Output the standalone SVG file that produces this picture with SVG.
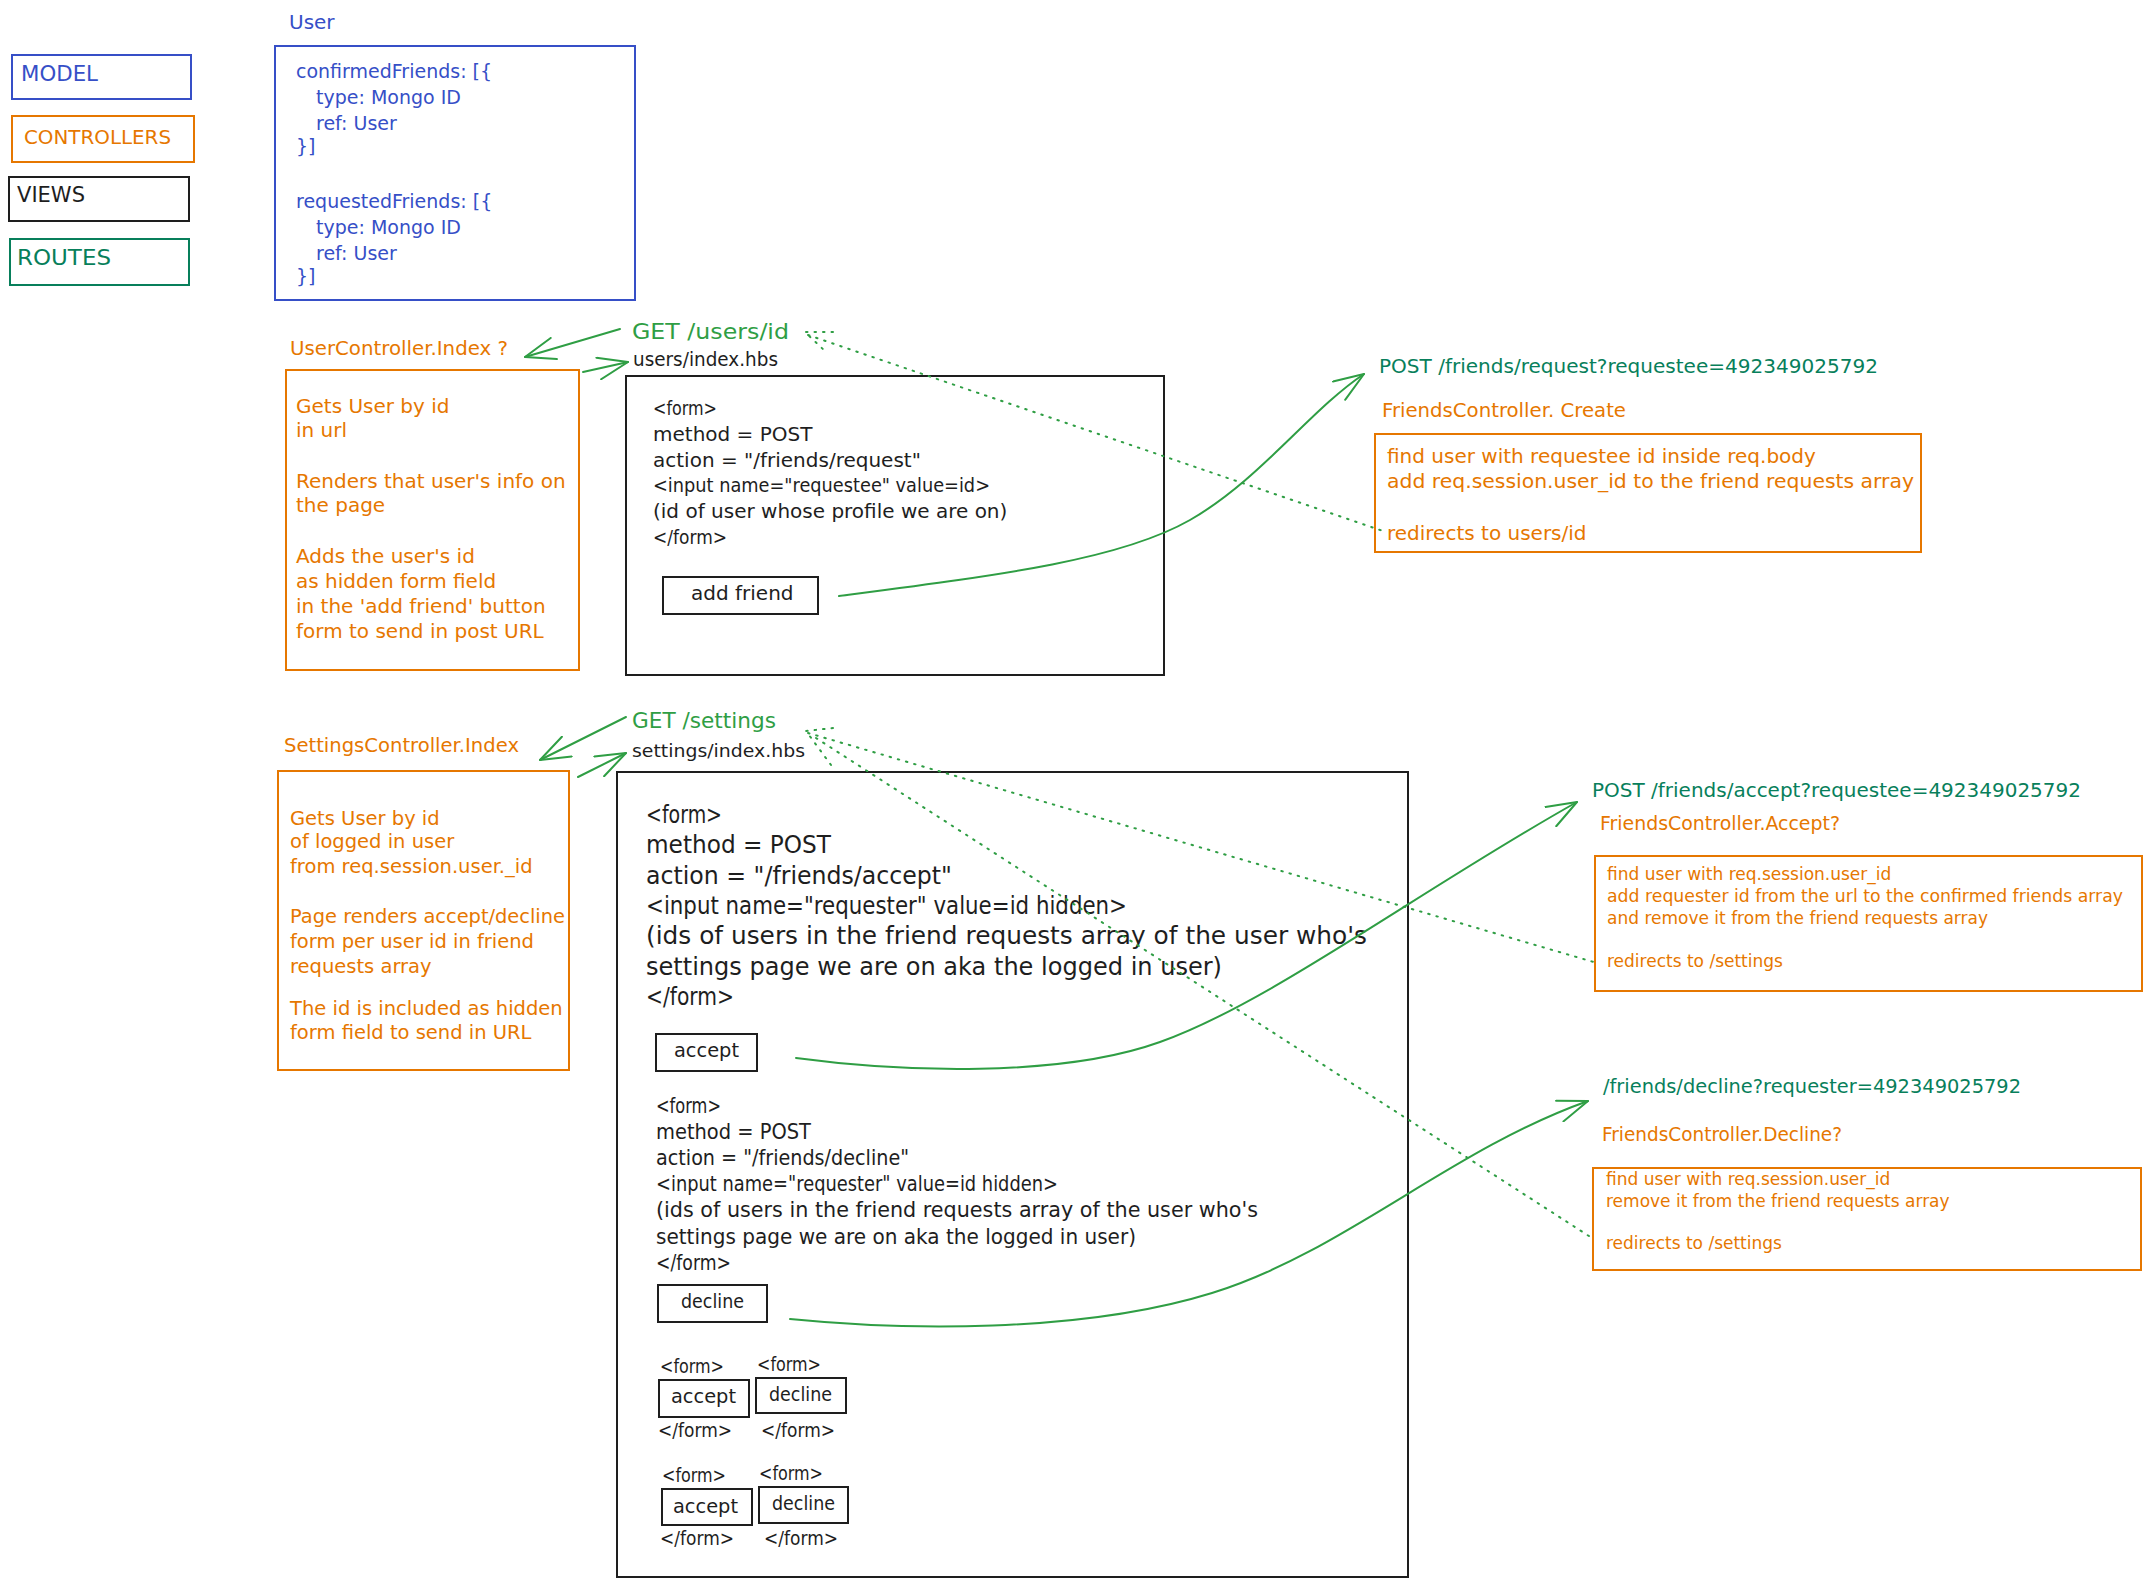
<svg xmlns="http://www.w3.org/2000/svg" width="2150" height="1586" viewBox="0 0 2150 1586">
<style>
text{font-family:"DejaVu Sans","Liberation Sans",sans-serif;}
.blue{fill:#364fc7}.orange{fill:#e67700}.green{fill:#2f9e44}.teal{fill:#087f5b}.black{fill:#1e1e1e}
.bx{fill:none;stroke-width:2}
.bB{stroke:#364fc7}.bO{stroke:#e67700}.bK{stroke:#1e1e1e}.bT{stroke:#087f5b}
.cv{fill:none;stroke:#2f9e44;stroke-width:2;stroke-linecap:round}
.dot{fill:none;stroke:#2f9e44;stroke-width:2;stroke-dasharray:1.5 7;stroke-linecap:round}
</style>
<defs>
<marker id="ah" viewBox="0 0 32 24" refX="31" refY="12" markerWidth="32" markerHeight="24" markerUnits="userSpaceOnUse" orient="auto">
<path d="M1 1 L31 12 L1 23" fill="none" stroke="#2f9e44" stroke-width="2" stroke-linecap="round" stroke-linejoin="round"/>
</marker>
</defs>
<rect x="0" y="0" width="2150" height="1586" fill="#ffffff"/>

<g id="legend-model">
<rect class="bx bB" x="12" y="55" width="179" height="44"/>
<text class="blue" x="21" y="81" font-size="21" textLength="77" lengthAdjust="spacingAndGlyphs">MODEL</text>
</g>
<g id="legend-controllers">
<rect class="bx bO" x="12" y="116" width="182" height="46"/>
<text class="orange" x="24" y="144" font-size="20" textLength="147" lengthAdjust="spacingAndGlyphs">CONTROLLERS</text>
</g>
<g id="legend-views">
<rect class="bx bK" x="9" y="177" width="180" height="44"/>
<text class="black" x="17" y="202" font-size="21" textLength="68" lengthAdjust="spacingAndGlyphs">VIEWS</text>
</g>
<g id="legend-routes">
<rect class="bx bT" x="10" y="239" width="179" height="46"/>
<text class="teal" x="17" y="265" font-size="22" textLength="94" lengthAdjust="spacingAndGlyphs">ROUTES</text>
</g>

<g id="user-model">
<text class="blue" x="289" y="29" font-size="20">User</text>
<rect class="bx bB" x="275" y="46" width="360" height="254"/>
<text class="blue" font-size="19">
<tspan x="296" y="78">confirmedFriends: [{</tspan>
<tspan x="316" y="104">type: Mongo ID</tspan>
<tspan x="316" y="130">ref: User</tspan>
<tspan x="296" y="153">}]</tspan>
<tspan x="296" y="208">requestedFriends: [{</tspan>
<tspan x="316" y="234">type: Mongo ID</tspan>
<tspan x="316" y="260">ref: User</tspan>
<tspan x="296" y="283">}]</tspan>
</text>
</g>

<g id="user-controller">
<text class="orange" x="290" y="355" font-size="20" textLength="218" lengthAdjust="spacingAndGlyphs">UserController.Index ?</text>
<rect class="bx bO" x="286" y="370" width="293" height="300"/>
<text class="orange" font-size="20">
<tspan x="296" y="413">Gets User by id</tspan>
<tspan x="296" y="437">in url</tspan>
<tspan x="296" y="488">Renders that user's info on</tspan>
<tspan x="296" y="512">the page</tspan>
<tspan x="296" y="563">Adds the user's id</tspan>
<tspan x="296" y="588">as hidden form field</tspan>
<tspan x="296" y="613">in the 'add friend' button</tspan>
<tspan x="296" y="638">form to send in post URL</tspan>
</text>
</g>

<g id="users-route">
<text class="green" x="632" y="339" font-size="21" textLength="157" lengthAdjust="spacingAndGlyphs">GET /users/id</text>
</g>

<g id="users-view">
<text class="black" x="633" y="366" font-size="19" textLength="145" lengthAdjust="spacingAndGlyphs">users/index.hbs</text>
<rect class="bx bK" x="626" y="376" width="538" height="299"/>
<text class="black" font-size="20">
<tspan x="653" y="415" textLength="64" lengthAdjust="spacingAndGlyphs">&lt;form&gt;</tspan>
<tspan x="653" y="441">method = POST</tspan>
<tspan x="653" y="467">action = "/friends/request"</tspan>
<tspan x="653" y="492" textLength="337" lengthAdjust="spacingAndGlyphs">&lt;input name="requestee" value=id&gt;</tspan>
<tspan x="653" y="518">(id of user whose profile we are on)</tspan>
<tspan x="653" y="544" textLength="74" lengthAdjust="spacingAndGlyphs">&lt;/form&gt;</tspan>
</text>
<rect class="bx bK" x="663" y="577" width="155" height="37"/>
<text class="black" x="691" y="600" font-size="20">add friend</text>
</g>

<g id="friends-request">
<text class="teal" x="1379" y="373" font-size="20" textLength="499" lengthAdjust="spacingAndGlyphs">POST /friends/request?requestee=492349025792</text>
<text class="orange" x="1382" y="417" font-size="19.5" textLength="244" lengthAdjust="spacingAndGlyphs">FriendsController. Create</text>
<rect class="bx bO" x="1375" y="434" width="546" height="118"/>
<text class="orange" font-size="20">
<tspan x="1387" y="463">find user with requestee id inside req.body</tspan>
<tspan x="1387" y="488" textLength="527" lengthAdjust="spacingAndGlyphs">add req.session.user_id to the friend requests array</tspan>
<tspan x="1387" y="540">redirects to users/id</tspan>
</text>
</g>

<g id="settings-route">
<text class="green" x="632" y="728" font-size="21" textLength="144" lengthAdjust="spacingAndGlyphs">GET /settings</text>
</g>

<g id="settings-controller">
<text class="orange" x="284" y="752" font-size="19.5" textLength="235" lengthAdjust="spacingAndGlyphs">SettingsController.Index</text>
<rect class="bx bO" x="278" y="771" width="291" height="299"/>
<text class="orange" font-size="19.5">
<tspan x="290" y="825">Gets User by id</tspan>
<tspan x="290" y="848">of logged in user</tspan>
<tspan x="290" y="873">from req.session.user._id</tspan>
<tspan x="290" y="923" textLength="275" lengthAdjust="spacingAndGlyphs">Page renders accept/decline</tspan>
<tspan x="290" y="948">form per user id in friend</tspan>
<tspan x="290" y="973">requests array</tspan>
<tspan x="290" y="1015">The id is included as hidden</tspan>
<tspan x="290" y="1039">form field to send in URL</tspan>
</text>
</g>

<g id="settings-view">
<text class="black" x="632" y="757" font-size="18.5" textLength="173" lengthAdjust="spacingAndGlyphs">settings/index.hbs</text>
<rect class="bx bK" x="617" y="772" width="791" height="805"/>
<text class="black" font-size="24.5">
<tspan x="646" y="823" textLength="76" lengthAdjust="spacingAndGlyphs">&lt;form&gt;</tspan>
<tspan x="646" y="853" textLength="185" lengthAdjust="spacingAndGlyphs">method = POST</tspan>
<tspan x="646" y="884" textLength="306" lengthAdjust="spacingAndGlyphs">action = "/friends/accept"</tspan>
<tspan x="646" y="914" textLength="481" lengthAdjust="spacingAndGlyphs">&lt;input name="requester" value=id hidden&gt;</tspan>
<tspan x="646" y="944" textLength="721" lengthAdjust="spacingAndGlyphs">(ids of users in the friend requests array of the user who's</tspan>
<tspan x="646" y="975" textLength="576" lengthAdjust="spacingAndGlyphs">settings page we are on aka the logged in user)</tspan>
<tspan x="646" y="1005" textLength="88" lengthAdjust="spacingAndGlyphs">&lt;/form&gt;</tspan>
</text>
<rect class="bx bK" x="656" y="1034" width="101" height="37"/>
<text class="black" x="674" y="1057" font-size="20" textLength="65" lengthAdjust="spacingAndGlyphs">accept</text>
<text class="black" font-size="20.5">
<tspan x="656" y="1113" textLength="65" lengthAdjust="spacingAndGlyphs">&lt;form&gt;</tspan>
<tspan x="656" y="1139" textLength="155" lengthAdjust="spacingAndGlyphs">method = POST</tspan>
<tspan x="656" y="1165" textLength="253" lengthAdjust="spacingAndGlyphs">action = "/friends/decline"</tspan>
<tspan x="656" y="1191" textLength="402" lengthAdjust="spacingAndGlyphs">&lt;input name="requester" value=id hidden&gt;</tspan>
<tspan x="656" y="1217" textLength="602" lengthAdjust="spacingAndGlyphs">(ids of users in the friend requests array of the user who's</tspan>
<tspan x="656" y="1244" textLength="480" lengthAdjust="spacingAndGlyphs">settings page we are on aka the logged in user)</tspan>
<tspan x="656" y="1270" textLength="75" lengthAdjust="spacingAndGlyphs">&lt;/form&gt;</tspan>
</text>
<rect class="bx bK" x="658" y="1285" width="109" height="37"/>
<text class="black" x="681" y="1308" font-size="20" textLength="63" lengthAdjust="spacingAndGlyphs">decline</text>

<text class="black" font-size="19">
<tspan x="660" y="1373" textLength="64" lengthAdjust="spacingAndGlyphs">&lt;form&gt;</tspan>
<tspan x="757" y="1371" textLength="64" lengthAdjust="spacingAndGlyphs">&lt;form&gt;</tspan>
<tspan x="658" y="1437" textLength="74" lengthAdjust="spacingAndGlyphs">&lt;/form&gt;</tspan>
<tspan x="761" y="1437" textLength="74" lengthAdjust="spacingAndGlyphs">&lt;/form&gt;</tspan>
<tspan x="662" y="1482" textLength="64" lengthAdjust="spacingAndGlyphs">&lt;form&gt;</tspan>
<tspan x="759" y="1480" textLength="64" lengthAdjust="spacingAndGlyphs">&lt;form&gt;</tspan>
<tspan x="660" y="1545" textLength="74" lengthAdjust="spacingAndGlyphs">&lt;/form&gt;</tspan>
<tspan x="764" y="1545" textLength="74" lengthAdjust="spacingAndGlyphs">&lt;/form&gt;</tspan>
</text>
<rect class="bx bK" x="659" y="1380" width="90" height="37"/>
<text class="black" x="671" y="1403" font-size="20" textLength="65" lengthAdjust="spacingAndGlyphs">accept</text>
<rect class="bx bK" x="756" y="1378" width="90" height="35"/>
<text class="black" x="769" y="1401" font-size="20" textLength="63" lengthAdjust="spacingAndGlyphs">decline</text>
<rect class="bx bK" x="662" y="1489" width="90" height="36"/>
<text class="black" x="673" y="1513" font-size="20" textLength="65" lengthAdjust="spacingAndGlyphs">accept</text>
<rect class="bx bK" x="759" y="1487" width="89" height="36"/>
<text class="black" x="772" y="1510" font-size="20" textLength="63" lengthAdjust="spacingAndGlyphs">decline</text>
</g>

<g id="friends-accept">
<text class="teal" x="1592" y="797" font-size="20" textLength="489" lengthAdjust="spacingAndGlyphs">POST /friends/accept?requestee=492349025792</text>
<text class="orange" x="1600" y="830" font-size="19" textLength="240" lengthAdjust="spacingAndGlyphs">FriendsController.Accept?</text>
<rect class="bx bO" x="1595" y="856" width="547" height="135"/>
<text class="orange" font-size="17">
<tspan x="1607" y="880">find user with req.session.user_id</tspan>
<tspan x="1607" y="902" textLength="516" lengthAdjust="spacingAndGlyphs">add requester id from the url to the confirmed friends array</tspan>
<tspan x="1607" y="924">and remove it from the friend requests array</tspan>
<tspan x="1607" y="967">redirects to /settings</tspan>
</text>
</g>

<g id="friends-decline">
<text class="teal" x="1603" y="1093" font-size="19.5" textLength="418" lengthAdjust="spacingAndGlyphs">/friends/decline?requester=492349025792</text>
<text class="orange" x="1602" y="1141" font-size="19" textLength="240" lengthAdjust="spacingAndGlyphs">FriendsController.Decline?</text>
<rect class="bx bO" x="1593" y="1168" width="548" height="102"/>
<text class="orange" font-size="17">
<tspan x="1606" y="1185">find user with req.session.user_id</tspan>
<tspan x="1606" y="1207">remove it from the friend requests array</tspan>
<tspan x="1606" y="1249">redirects to /settings</tspan>
</text>
</g>

<g id="connectors">
<path class="cv" d="M620 329 L525 357" marker-end="url(#ah)"/>
<path class="cv" d="M583 372 L628 362" marker-end="url(#ah)"/>
<path class="cv" d="M626 717 L540 760" marker-end="url(#ah)"/>
<path class="cv" d="M578 777 L626 753" marker-end="url(#ah)"/>
<path class="cv" d="M839 596 C1000 575 1120 560 1190 520 C1260 480 1310 410 1364 374" marker-end="url(#ah)"/>
<path class="cv" d="M796 1058 C900 1072 1060 1078 1160 1042 C1270 1003 1420 890 1577 802" marker-end="url(#ah)"/>
<path class="cv" d="M790 1319 C900 1330 1080 1334 1212 1293 S1450 1150 1588 1101" marker-end="url(#ah)"/>
<path class="dot" d="M833 332 L805 332 L826 352"/>
<path class="dot" d="M808 335 L1386 532"/>
<path class="dot" d="M833 728 L806 731 L831 765"/>
<path class="dot" d="M808 733 L1597 963"/>
<path class="dot" d="M816 738 L1592 1238"/>
</g>
</svg>
